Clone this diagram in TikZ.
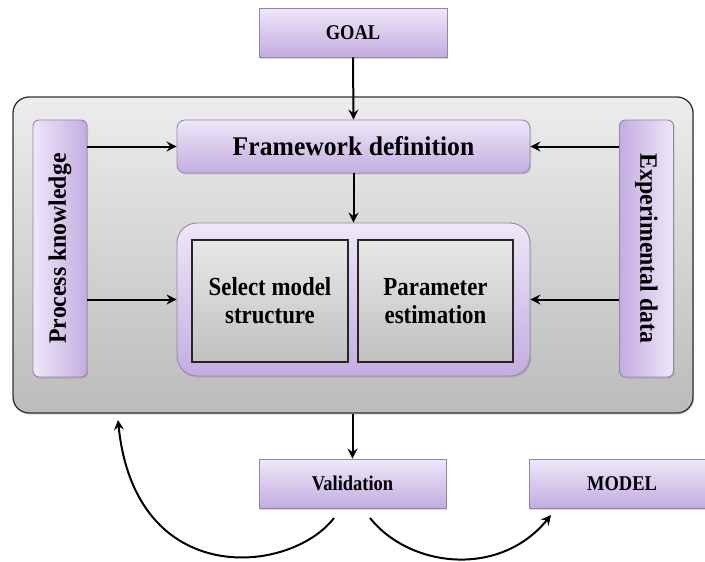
\documentclass[tikz,border=0pt]{standalone}
\usepackage{fontspec}
\setmainfont{Liberation Serif}
\usepackage{graphicx}
\usetikzlibrary{arrows.meta,shadows}
\definecolor{lavtop}{HTML}{EEE7F8}
\definecolor{lavbot}{HTML}{C4ACE0}
\definecolor{lavedge}{HTML}{9584AE}
\definecolor{graytop}{HTML}{EDEDED}
\definecolor{graybot}{HTML}{BBBBBB}
\definecolor{boxtop}{HTML}{E8E8E8}
\definecolor{boxbot}{HTML}{C0C0C0}
\newcommand{\cond}[1]{\scalebox{0.88}[1]{#1}}
\tikzset{
  shad/.style={drop shadow={shadow xshift=1.2pt,shadow yshift=-1.6pt,opacity=0.3}},
  lavbox/.style={shad,draw=lavedge,line width=0.9pt,top color=lavtop,bottom color=lavbot,inner sep=0pt,align=center,font=\bfseries},
  outerbox/.style={shad,draw=black!80,line width=1.3pt,top color=graytop,bottom color=graybot,rounded corners=16pt,inner sep=0pt},
  graybox/.style={draw=black!85,line width=1.3pt,top color=boxtop,bottom color=boxbot,inner sep=0pt,align=center,font=\bfseries\fontsize{26}{28}\selectfont},
  sidebox/.style={shad,draw=lavedge,line width=0.9pt,rounded corners=6pt,inner sep=0pt,font=\bfseries\fontsize{25}{28}\selectfont,minimum width=54pt,minimum height=257pt},
  arr/.style={line width=2pt,-{Stealth[length=10pt,width=10pt,inset=3.5pt]}},
}
\begin{document}
\begin{tikzpicture}[x=1pt,y=-1pt]
\useasboundingbox (0,0) rectangle (705,562);
\clip (0,0) rectangle (705,562);
% outer container
\node[outerbox,minimum width=680pt,minimum height=316pt] (outer) at (353,255) {};
% top goal
\node[lavbox,minimum width=188pt,minimum height=49pt,font=\bfseries\fontsize{21}{24}\selectfont] (goal) at (353,32.5) {\cond{GOAL}};
% framework
\node[lavbox,rounded corners=8pt,minimum width=353pt,minimum height=53pt,font=\bfseries\fontsize{27}{30}\selectfont] (frame) at (353.5,146.5) {\scalebox{0.95}[1]{Framework definition}};
% inner lavender container
\node[lavbox,rounded corners=20pt,minimum width=353pt,minimum height=153pt] (inner) at (353.5,299.5) {};
\node[graybox,minimum width=156pt,minimum height=122pt] (sel) at (270,301) {\cond{Select model}\\\cond{structure}};
\node[graybox,minimum width=155pt,minimum height=122pt] (par) at (435.5,301) {\cond{Parameter}\\\cond{estimation}};
% side boxes
\node[sidebox,left color=lavtop,right color=lavbot] (pk) at (60,248.5) {\rotatebox{90}{\scalebox{0.95}[1]{Process knowledge}}};
\node[sidebox,left color=lavbot,right color=lavtop] (ed) at (646.5,248.5) {\rotatebox{-90}{\scalebox{0.95}[1]{Experimental data}}};
% bottom
\node[lavbox,minimum width=187pt,minimum height=49pt,font=\bfseries\fontsize{21}{24}\selectfont] (val) at (352.5,483.5) {\cond{Validation}};
\node[lavbox,minimum width=186pt,minimum height=49pt,font=\bfseries\fontsize{21}{24}\selectfont] (model) at (622,483.5) {\cond{MODEL}};
% connectors
\draw[arr] (goal.south) -- (frame.north);
\draw[arr] (frame.south) -- (inner.north);
\draw[arr] (outer.south -| val.north) -- (val.north);
\draw[arr] (pk.east |- frame.west) -- (frame.west);
\draw[arr] (pk.east |- inner.west) -- (inner.west);
\draw[arr] (ed.west |- frame.east) -- (frame.east);
\draw[arr] (ed.west |- inner.east) -- (inner.east);
% feedback curves
\coordinate (c1) at (334,518);
\coordinate (c1e) at (118,420);
\coordinate (c2) at (370,518);
\coordinate (c2e) at (551,515);
\draw[arr] (c1) .. controls (290,575) and (135,590) .. (c1e);
\draw[arr] (c2) .. controls (410,568) and (500,578) .. (c2e);
\end{tikzpicture}
\end{document}
